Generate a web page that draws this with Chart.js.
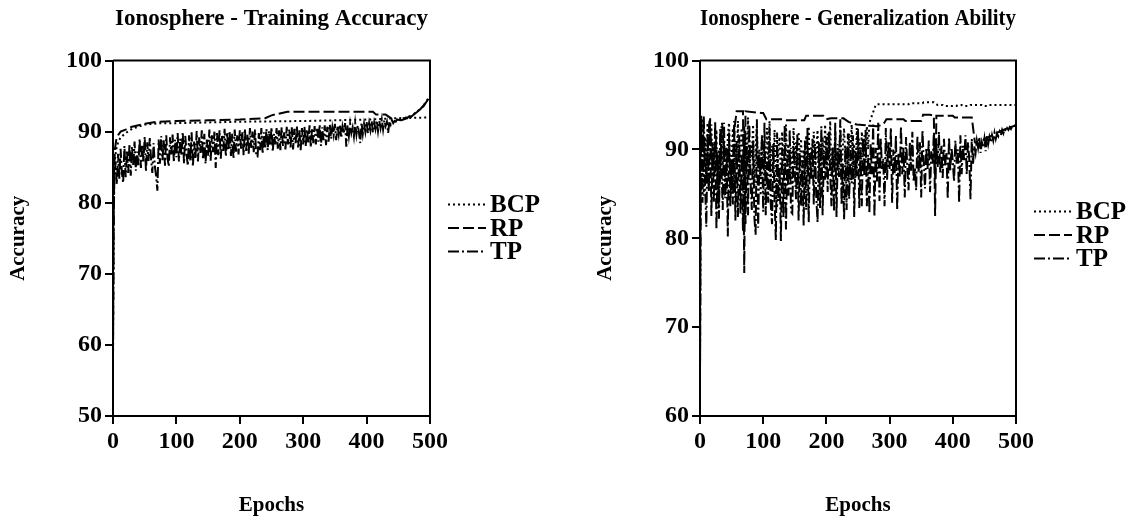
<!DOCTYPE html>
<html>
<head>
<meta charset="utf-8">
<script src="https://cdn.jsdelivr.net/npm/chart.js@4.4.1/dist/chart.umd.min.js"></script>
<style>
  html, body { margin: 0; padding: 0; background: #fff; }
  #wrap { position: relative; width: 1132px; height: 521px; }
  .panel { position: absolute; top: 0; }
</style>
</head>
<body>
<div id="wrap">
  <div class="panel" style="left:0;width:587px;height:521px"><canvas id="graficoEntrenamiento" width="587" height="521"></canvas></div>
  <div class="panel" style="left:587px;width:545px;height:521px"><canvas id="graficoGeneralizacion" width="545" height="521"></canvas></div>
</div>
<script>
// epochs shared by the noisy series
const epochs = [0, 1,
  2, 4, 6, 8, 10, 12, 14, 16, 18, 20,
  22, 24, 26, 28, 30, 32, 34, 36, 38, 40,
  42, 44, 46, 48, 50, 52, 54, 56, 58, 60,
  62, 64, 66, 68, 70, 72, 74, 76, 78, 80,
  82, 84, 86, 88, 90, 92, 94, 96, 98, 100,
  102, 104, 106, 108, 110, 112, 114, 116, 118, 120,
  122, 124, 126, 128, 130, 132, 134, 136, 138, 140,
  142, 144, 146, 148, 150, 152, 154, 156, 158, 160,
  162, 164, 166, 168, 170, 172, 174, 176, 178, 180,
  182, 184, 186, 188, 190, 192, 194, 196, 198, 200,
  202, 204, 206, 208, 210, 212, 214, 216, 218, 220,
  222, 224, 226, 228, 230, 232, 234, 236, 238, 240,
  242, 244, 246, 248, 250, 252, 254, 256, 258, 260,
  262, 264, 266, 268, 270, 272, 274, 276, 278, 280,
  282, 284, 286, 288, 290, 292, 294, 296, 298, 300,
  302, 304, 306, 308, 310, 312, 314, 316, 318, 320,
  322, 324, 326, 328, 330, 332, 334, 336, 338, 340,
  342, 344, 346, 348, 350, 352, 354, 356, 358, 360,
  362, 364, 366, 368, 370, 372, 374, 376, 378, 380,
  382, 384, 386, 388, 390, 392, 394, 396, 398, 400,
  402, 404, 406, 408, 410, 412, 414, 416, 418, 420,
  422, 424, 426, 428, 430, 432, 434, 436, 438, 440,
  442, 444, 446, 448, 450, 452, 454, 456, 458, 460,
  462, 464, 466, 468, 470, 472, 474, 476, 478, 480,
  482, 484, 486, 488, 490, 492, 494, 496, 498, 500];

// --- Training accuracy ---
const trainBcpEpochs = [0, 1, 2, 3, 5, 8, 12, 20, 30, 50, 75, 100, 150, 200, 300, 400, 450, 500];
const trainBcp = [58, 76, 83, 86, 87.5, 88.5, 89.2, 89.8, 90.4, 91.0, 91.2, 91.2, 91.3, 91.4, 91.5, 91.7, 91.9, 92.0];

const trainRpEpochs = [0, 1, 2, 3, 5, 8, 12, 20, 30, 50, 70, 100, 150, 200, 240, 250, 275, 410, 415, 430, 440, 455, 470, 480, 490, 500];
const trainRp = [60, 78, 85, 87.5, 88.8, 89.5, 90.0, 90.3, 90.7, 91.1, 91.4, 91.5, 91.6, 91.7, 91.9, 92.3, 92.8, 92.8, 92.4, 92.4, 91.8, 91.6, 92.1, 92.8, 93.6, 95.0];

const trainTp = [58, 76,
  83.5, 85.8, 82.6, 86.9, 83.4, 87.6, 84.2, 82.8, 88.0, 83.6,
  87.4, 84.2, 88.3, 83.8, 87.9, 85.1, 88.6, 84.5, 87.2, 85.3,
  89.0, 84.9, 88.2, 85.8, 89.3, 84.4, 88.5, 85.9, 89.1, 86.2,
  84.2, 88.4, 85.1, 83.8, 81.7, 88.9, 85.5, 89.4, 86.0, 88.8,
  85.2, 89.5, 86.3, 85.1, 89.2, 86.8, 89.6, 85.7, 88.9, 86.4,
  89.8, 85.8, 89.0, 86.6, 90.0, 85.5, 89.4, 86.9, 85.2, 89.5,
  85.9, 89.9, 85.1, 88.6, 86.3, 90.1, 85.8, 89.2, 87.0, 90.2,
  86.1, 89.7, 85.5, 88.9, 86.6, 90.3, 85.9, 89.5, 87.1, 90.0,
  84.9, 89.8, 86.7, 90.2, 86.2, 89.4, 87.3, 90.4, 86.5, 89.9,
  87.4, 90.1, 86.6, 89.7, 86.2, 90.3, 87.2, 89.5, 86.8, 90.2,
  87.6, 89.9, 86.7, 90.4, 87.3, 89.6, 86.9, 90.5, 87.7, 90.0,
  87.1, 90.3, 86.5, 86.5, 89.8, 87.4, 90.5, 86.9, 89.9, 87.6,
  90.4, 87.4, 90.1, 88.0, 90.6, 87.2, 89.7, 88.2, 90.5, 87.6,
  90.2, 87.4, 90.6, 88.0, 89.9, 87.5, 90.7, 88.2, 90.3, 87.8,
  90.6, 87.5, 90.4, 88.4, 90.8, 87.8, 90.2, 87.4, 90.5, 88.2,
  90.7, 88.0, 90.3, 88.5, 90.9, 87.8, 90.5, 88.4, 90.8, 88.2,
  90.4, 88.6, 91.0, 88.0, 90.6, 88.8, 90.9, 88.1, 90.7, 88.6,
  91.0, 89.0, 90.6, 89.5, 91.1, 88.8, 90.8, 89.6, 91.0, 89.1,
  90.7, 89.7, 91.2, 87.9, 90.9, 89.4, 91.1, 89.8, 90.6, 89.3,
  91.2, 89.6, 90.9, 89.9, 88.4, 91.3, 89.7, 91.1, 90.0, 91.4,
  89.8, 91.2, 90.2, 91.5, 89.9, 91.3, 90.4, 91.6, 90.1, 91.5,
  90.5, 91.7, 90.3, 91.6, 90.8, 91.4, 89.8, 91.5, 91.0, 91.6,
  91.2, 91.5, 91.4, 91.7, 91.6, 91.5, 91.8, 91.7, 91.9, 91.8,
  92.0, 91.9, 92.1, 92.2, 92.1, 92.3, 92.4, 92.6, 92.7, 92.8,
  93.0, 93.1, 93.3, 93.5, 93.7, 94.0, 94.2, 94.5, 94.7, 95.0];

// --- Generalization ability ---
const genBcp = [64, 90,
  86.0, 93.5, 84.8, 91.4, 88.0, 93.0, 85.2, 90.6, 92.8, 86.6,
  90.6, 87.4, 92.2, 84.6, 90.0, 86.4, 92.6, 88.2, 90.8, 85.4,
  86.0, 91.6, 93.0, 87.6, 88.6, 92.4, 86.2, 91.0, 89.0, 93.2,
  86.8, 90.4, 92.4, 88.0, 85.8, 91.8, 88.4, 93.6, 87.2, 90.6,
  89.2, 92.8, 85.6, 90.4, 92.6, 87.8, 90.0, 84.8, 91.6, 88.4,
  90.6, 86.8, 92.4, 88.2, 93.2, 86.0, 90.4, 88.8, 92.2, 85.2,
  83.4, 90.2, 91.4, 87.0, 92.0, 88.6, 85.8, 92.8, 88.4, 90.6,
  87.2, 90.2, 86.0, 92.4, 88.2, 90.8, 85.6, 92.0, 88.8, 91.2,
  86.4, 90.0, 85.4, 91.6, 88.2, 92.6, 87.0, 90.4, 88.0, 92.0,
  87.4, 89.8, 92.2, 86.2, 90.6, 85.6, 91.4, 88.4, 92.8, 87.6,
  91.8, 88.8, 93.2, 87.0, 90.2, 88.4, 92.0, 86.4, 90.6, 88.8,
  92.6, 86.8, 90.4, 92.4, 88.6, 90.2, 86.4, 91.8, 89.2, 92.8,
  88.0, 90.6, 86.8, 92.4, 89.0, 91.2, 87.6, 92.0, 89.4, 91.6,
  88.8, 92.6, 90.0, 93.0, 93.4, 93.8, 94.2, 94.6, 95.0, 95.1,
  95.1, 95.1, 95.1, 95.1, 95.1, 95.1, 95.1, 95.1, 95.1, 95.1,
  95.1, 95.1, 95.1, 95.1, 95.1, 95.1, 95.1, 95.1, 95.1, 95.1,
  95.1, 95.1, 95.1, 95.1, 95.1, 95.2, 95.2, 95.2, 95.2, 95.2,
  95.2, 95.2, 95.2, 95.2, 95.2, 95.2, 95.3, 95.3, 95.3, 95.3,
  95.3, 95.3, 95.3, 95.3, 95.3, 95.2, 95.1, 95.0, 95.0, 95.0,
  95.0, 95.0, 94.9, 94.9, 94.9, 94.9, 94.9, 94.9, 94.9, 94.9,
  94.9, 94.9, 94.9, 95.0, 95.0, 95.0, 95.0, 94.9, 94.9, 94.9,
  94.9, 94.9, 94.9, 95.0, 95.0, 95.0, 95.0, 95.0, 95.0, 95.0,
  95.0, 95.0, 95.0, 94.9, 94.9, 94.9, 94.9, 94.9, 95.0, 95.0,
  95.0, 95.0, 95.0, 95.0, 95.0, 95.0, 95.0, 95.0, 95.0, 95.0,
  95.0, 95.0, 95.0, 95.0, 95.0, 95.0, 95.0, 95.0, 95.0, 95.0];

const genRpEpochs = [0, 1, 2, 3, 5, 10, 15, 20, 25, 30, 35, 40, 45, 50, 55, 58, 68, 70, 72, 97, 100, 105,
  130, 135, 165, 168, 195, 200, 207, 227, 235, 248, 280, 290, 295, 322, 325, 350, 353, 364, 370, 372, 374,
  400, 403, 430, 435, 440, 450, 460, 470, 480, 490, 500];
const genRp = [64, 86, 93.8, 90.2, 91.2, 86.8, 93.4, 88.0, 91.4, 84.6, 93.0, 87.6, 90.2, 85.4, 92.6, 94.3, 94.3, 76.1, 94.3, 94.1, 94.1, 93.4,
  93.4, 93.3, 93.3, 93.8, 93.8, 93.4, 93.5, 93.5, 93.1, 92.8, 92.6, 92.8, 93.4, 93.4, 93.2, 93.2, 93.9, 93.9, 93.8, 82.5, 93.8,
  93.8, 93.6, 93.6, 90.8, 90.6, 91.2, 91.5, 91.9, 92.2, 92.5, 92.7];

const genTp = [64, 88,
  92.5, 84.0, 93.8, 86.2, 81.3, 91.8, 85.4, 93.5, 82.5, 90.8,
  84.0, 93.2, 81.0, 89.6, 82.2, 92.4, 87.8, 83.2, 93.0, 84.5,
  90.2, 80.2, 92.0, 83.6, 88.9, 83.8, 93.2, 82.0, 90.8, 82.4,
  91.6, 82.8, 89.5, 80.8, 92.6, 81.6, 90.4, 82.6, 92.8, 86.4,
  83.2, 91.0, 82.4, 80.4, 93.4, 81.2, 89.2, 86.9, 91.6, 83.0,
  93.0, 82.6, 88.6, 84.0, 92.4, 83.8, 81.6, 90.6, 84.4, 79.8,
  91.9, 84.2, 88.0, 79.7, 90.2, 82.4, 92.8, 81.0, 89.0, 84.8,
  92.3, 83.0, 82.8, 90.4, 87.6, 84.4, 91.8, 82.0, 89.4, 83.6,
  88.8, 81.4, 91.0, 83.2, 92.4, 81.8, 89.5, 86.6, 91.2, 83.8,
  90.6, 84.6, 81.8, 90.8, 83.4, 92.6, 82.6, 89.6, 86.6, 91.4,
  85.2, 92.0, 87.4, 83.6, 90.2, 83.0, 93.0, 82.4, 89.8, 86.9,
  93.4, 83.8, 88.4, 82.1, 90.4, 83.2, 91.8, 84.4, 89.6, 86.2,
  91.6, 82.4, 89.8, 87.0, 92.4, 83.4, 90.0, 83.6, 91.2, 87.0,
  92.2, 83.6, 89.4, 82.8, 90.6, 87.2, 92.8, 82.4, 90.2, 86.4,
  93.0, 84.2, 91.2, 87.8, 89.0, 83.6, 92.4, 86.6, 90.8, 87.8,
  92.4, 84.0, 90.0, 87.2, 91.6, 83.2, 89.6, 86.8, 92.6, 87.2,
  90.2, 84.6, 91.4, 88.0, 85.4, 90.8, 87.6, 92.0, 86.4, 88.0,
  85.4, 91.5, 87.4, 90.8, 84.6, 92.2, 88.6, 85.6, 90.2, 87.8,
  91.0, 85.2, 89.8, 88.4, 91.8, 86.8, 90.6, 88.0, 92.0, 87.4,
  90.4, 86.8, 91.2, 88.2, 89.6, 84.4, 91.4, 87.6, 90.2, 88.6,
  86.4, 91.0, 88.4, 90.0, 84.0, 91.6, 87.2, 90.4, 88.8, 91.6,
  87.2, 90.8, 89.0, 84.4, 91.2, 88.4, 90.4, 89.6, 91.0, 90.2,
  91.4, 89.6, 90.8, 90.2, 91.2, 89.8, 91.5, 90.6, 91.4, 90.8,
  91.6, 91.0, 91.9, 91.2, 91.8, 91.5, 92.0, 91.6, 92.2, 91.8,
  92.3, 92.0, 92.4, 92.2, 92.5, 92.3, 92.6, 92.5, 92.7, 92.7];

const serie = ['BCP', 'RP', 'TP'];
const guiones = [[2, 3], [11, 4], [11, 3, 2, 3]];

const fuente = "'Liberation Serif', 'Times New Roman', serif";
Chart.defaults.font.family = fuente;
Chart.defaults.color = '#000';

function pares(xs, ys) {
  return xs.map((x, i) => ({ x: x, y: ys[i] }));
}

// box round the plot area (top and right edges)
const marco = {
  id: 'marco',
  afterDraw(chart) {
    const { ctx, chartArea: a } = chart;
    ctx.save();
    ctx.strokeStyle = '#000';
    ctx.lineWidth = 2;
    ctx.beginPath();
    ctx.moveTo(a.left, a.top);
    ctx.lineTo(a.right, a.top);
    ctx.lineTo(a.right, a.bottom);
    ctx.stroke();
    ctx.restore();
  }
};

// legend at the right, line sample + label
const leyendaLateral = {
  id: 'leyendaLateral',
  afterDraw(chart, args, opts) {
    const { ctx, chartArea: a } = chart;
    ctx.save();
    chart.data.datasets.forEach((ds, i) => {
      const y = a.top + opts.top + i * opts.gap;
      const x = a.right + opts.left;
      ctx.strokeStyle = '#000';
      ctx.lineWidth = 2;
      ctx.setLineDash(ds.borderDash || []);
      ctx.beginPath();
      ctx.moveTo(x, y);
      ctx.lineTo(x + opts.largo, y);
      ctx.stroke();
      ctx.setLineDash([]);
      ctx.fillStyle = '#000';
      ctx.font = 'bold 25px ' + fuente;
      ctx.textBaseline = 'middle';
      ctx.fillText(ds.label, x + opts.largo + 4, y + 1);
    });
    ctx.restore();
  }
};

function crearGrafica(id, titulo, yMin, datos, padDerecha, leyendaTop) {
  const ctx = document.getElementById(id).getContext('2d');
  return new Chart(ctx, {
    type: 'line',
    data: {
      datasets: datos.map((d, i) => ({
        label: serie[i],
        data: d,
        borderColor: '#000',
        borderWidth: 2,
        borderDash: guiones[i],
        pointRadius: 0,
        fill: false,
        tension: 0
      }))
    },
    options: {
      responsive: false,
      animation: false,
      devicePixelRatio: 1,
      layout: { padding: { left: 0, right: padDerecha, top: 0, bottom: 0 } },
      scales: {
        x: {
          type: 'linear',
          min: 0,
          max: 500,
          ticks: { stepSize: 100, padding: 3, maxRotation: 0, font: { size: 24, weight: 'bold' } },
          grid: { drawOnChartArea: false, tickLength: 8, color: '#000', lineWidth: 2 },
          border: { color: '#000', width: 2 },
          title: { display: true, text: 'Epochs', font: { size: 21, weight: 'bold' }, padding: { top: 0, bottom: 3 } },
          afterFit: s => { s.height = 105; }
        },
        y: {
          min: yMin,
          max: 100,
          ticks: { stepSize: 10, padding: 3, font: { size: 24, weight: 'bold' } },
          grid: { drawOnChartArea: false, tickLength: 8, color: '#000', lineWidth: 2 },
          border: { color: '#000', width: 2 },
          title: { display: true, text: 'Accuracy', font: { size: 21, weight: 'bold' }, padding: { top: 6, bottom: 0 } },
          afterFit: s => { s.width = 113; }
        }
      },
      plugins: {
        legend: { display: false },
        tooltip: { enabled: false },
        title: {
          display: true,
          text: titulo,
          fullSize: false,
          color: '#000',
          font: { size: 23, weight: 'bold' },
          padding: { top: 5, bottom: 28 }
        },
        leyendaLateral: { left: 18, largo: 38, top: leyendaTop, gap: 23.5 }
      }
    },
    plugins: [marco, leyendaLateral]
  });
}

crearGrafica('graficoEntrenamiento', 'Ionosphere - Training Accuracy', 50, [
  pares(trainBcpEpochs, trainBcp),
  pares(trainRpEpochs, trainRp),
  pares(epochs, trainTp)
], 157, 144);

crearGrafica('graficoGeneralizacion', 'Ionosphere - Generalization Ability', 60, [
  pares(epochs, genBcp),
  pares(genRpEpochs, genRp),
  pares(epochs, genTp)
], 116, 151);
</script>
</body>
</html>
